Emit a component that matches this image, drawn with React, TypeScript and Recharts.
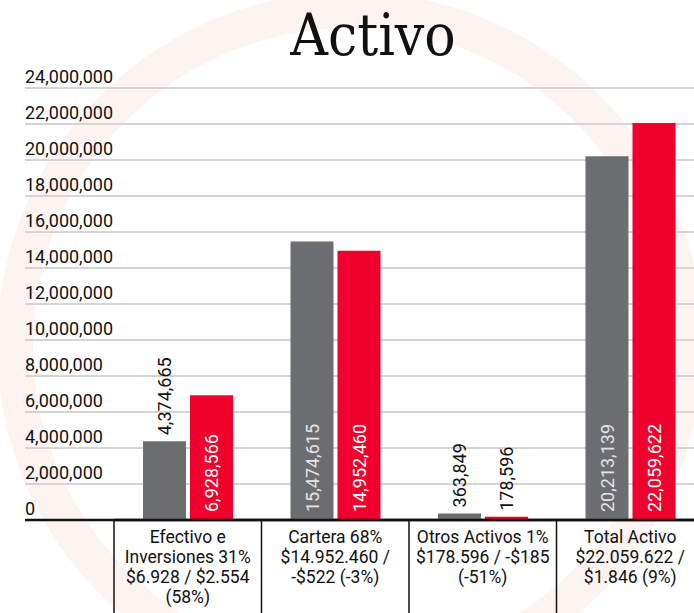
import React from "react";
import {
  BarChart,
  Bar,
  XAxis,
  YAxis,
  CartesianGrid,
  LabelList,
} from "recharts";

const categories = ["Efectivo e Inversiones", "Cartera", "Otros Activos", "Total Activo"];
const categoryLines = [
  ["Efectivo e", "Inversiones 31%", "$6.928 / $2.554", "(58%)"],
  ["Cartera 68%", "$14.952.460 /", "-$522 (-3%)"],
  ["Otros Activos 1%", "$178.596 / -$185", "(-51%)"],
  ["Total Activo", "$22.059.622 /", "$1.846 (9%)"],
];
const previousValues = [4374665, 15474615, 363849, 20213139];
const currentValues = [6928566, 14952460, 178596, 22059622];
const yTicks = [
  0, 2000000, 4000000, 6000000, 8000000, 10000000, 12000000, 14000000,
  16000000, 18000000, 20000000, 22000000, 24000000,
];

const GREY = "#6c6d71";
const RED = "#f0002c";
const FONT = "Roboto, 'Noto Sans', sans-serif";

const data = categories.map((name, i) => ({
  name,
  lines: categoryLines[i],
  previous: previousValues[i],
  current: currentValues[i],
}));

const fmt = (v: number) => v.toLocaleString("en-US");

const YTick = (props: any) => {
  const { y, payload } = props;
  return (
    <text x={25} y={y - 5} fill="#111" fontSize={18} fontFamily={FONT} textAnchor="start">
      {fmt(Number(payload.value))}
    </text>
  );
};

const XTick = (props: any) => {
  const { x, y, payload, index } = props;
  const half = payload && payload.offset ? payload.offset : 73.75;
  const lines: string[] = categoryLines[index] || [];
  return (
    <g>
      <line x1={x - half} x2={x - half} y1={y} y2={y + 100} stroke="#111" strokeWidth={1.5} />
      <text x={x} y={y + 23} fill="#111" fontSize={17.5} fontFamily={FONT} textAnchor="middle">
        {lines.map((l, i) => (
          <tspan key={i} x={x} dy={i === 0 ? 0 : 20}>
            {l}
          </tspan>
        ))}
      </text>
    </g>
  );
};

const gridLine = (p: any) => {
  const bottom = p.y !== undefined && p.height !== undefined && Math.abs(p.y1 - (p.y + p.height)) < 1;
  return (
    <line
      key={p.key ?? `g-${p.index}-${p.y1}`}
      x1={25}
      x2={p.x2}
      y1={p.y1}
      y2={p.y2}
      stroke={bottom ? "#111" : "#d4d4d4"}
      strokeWidth={bottom ? 2.5 : 1.8}
    />
  );
};

const barLabel = (insideColor: string) => (props: any) => {
  const x = Number(props.x);
  const y = Number(props.y);
  const width = Number(props.width);
  const height = Number(props.height);
  const cx = x + width / 2;
  const inside = height > 100;
  const by = inside ? y + height - 8 : y - 6;
  return (
    <text
      x={cx}
      y={by}
      transform={`rotate(-90 ${cx} ${by})`}
      textAnchor="start"
      dominantBaseline="central"
      fill={inside ? insideColor : "#111"}
      fontSize={18}
      fontFamily={FONT}
    >
      {fmt(Number(props.value))}
    </text>
  );
};

export default function App() {
  return (
    <div
      style={{
        position: "absolute",
        left: 0,
        top: 0,
        width: 694,
        height: 613,
        overflow: "hidden",
        background: "#fff",
      }}
    >
      <svg width={694} height={613} style={{ position: "absolute", left: 0, top: 0 }}>
        <circle cx={350} cy={345} r={335} fill="none" stroke="#fdf3f0" strokeWidth={36} />
      </svg>
      <div style={{ position: "absolute", left: 0, top: 0 }}>
        <BarChart
          width={704}
          height={613}
          data={data}
          margin={{ top: 88, right: 0, left: 25, bottom: 0 }}
          barCategoryGap={29}
          barGap={4}
        >
          <CartesianGrid vertical={false} horizontal={gridLine} />
          <XAxis
            dataKey="name"
            height={93}
            interval={0}
            tickLine={false}
            axisLine={{ stroke: "#111", strokeWidth: 2.5 }}
            tickSize={0}
            tickMargin={0}
            tick={<XTick />}
          />
          <YAxis
            width={89}
            domain={[0, 24000000]}
            ticks={yTicks}
            interval={0}
            axisLine={false}
            tickLine={false}
            tick={<YTick />}
          />
          <Bar dataKey="previous" fill={GREY} isAnimationActive={false}>
            <LabelList dataKey="previous" content={barLabel("#e4e4e4")} />
          </Bar>
          <Bar dataKey="current" fill={RED} isAnimationActive={false}>
            <LabelList dataKey="current" content={barLabel("#ffffff")} />
          </Bar>
        </BarChart>
      </div>
      <svg width={694} height={70} style={{ position: "absolute", left: 0, top: 0 }}>
        <text
          x={373}
          y={55}
          textAnchor="middle"
          fontSize={58}
          fontFamily="'DejaVu Serif Condensed', 'DejaVu Serif', serif"
          style={{ fontStretch: "condensed" }}
          fill="#111"
        >
          Activo
        </text>
      </svg>
    </div>
  );
}
